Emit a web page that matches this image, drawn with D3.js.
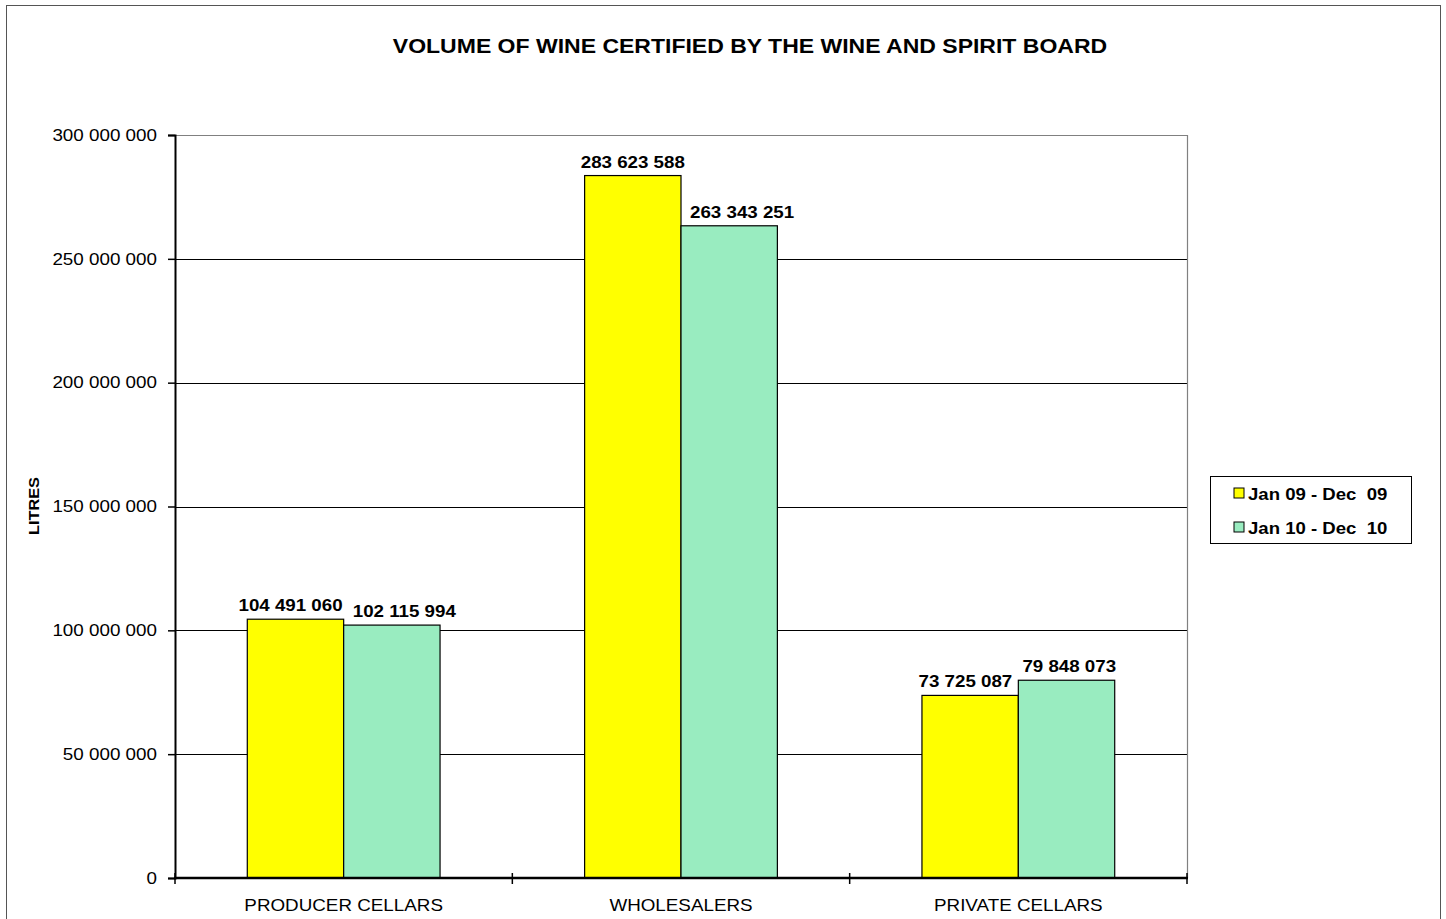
<!DOCTYPE html>
<html>
<head>
<meta charset="utf-8">
<script src="https://cdn.jsdelivr.net/npm/d3@7"></script>
<style>
  body { margin: 0; background: #fff; }
  text { font-family: "Liberation Sans", Arial, sans-serif; fill: #000; }
</style>
</head>
<body>
<div class="chart"></div>
<script>
const categories = ['PRODUCER CELLARS', 'WHOLESALERS', 'PRIVATE CELLARS'];
const seriesNames = ['Jan 09 - Dec  09', 'Jan 10 - Dec  10'];
const jan09 = [104491060, 283623588, 73725087];
const jan10 = [102115994, 263343251, 79848073];
const yTicks = [0, 50000000, 100000000, 150000000, 200000000, 250000000, 300000000];
const colors = ['#ffff00', '#99ecc0'];

const W = 1446, H = 919;
const plot = {left: 175, top: 135, right: 1187, bottom: 878};

const svg = d3.select('.chart').append('svg')
    .attr('width', W)
    .attr('height', H);

// the reference font renders wider than Liberation Sans, so stretch glyphs a bit
function stretch(sel, f) {
  sel.each(function() {
    const len = this.getComputedTextLength();
    d3.select(this)
      .attr('textLength', len * f)
      .attr('lengthAdjust', 'spacingAndGlyphs');
  });
}

// outer chart border
svg.append('rect')
    .attr('x', 6.5).attr('y', 5.5)
    .attr('width', 1434).attr('height', 930)
    .attr('fill', 'none')
    .attr('stroke', '#555')
    .attr('stroke-width', 1);

svg.append('text')
    .attr('x', 750).attr('y', 53)
    .attr('text-anchor', 'middle')
    .style('font-size', '20px')
    .style('font-weight', 'bold')
    .text('VOLUME OF WINE CERTIFIED BY THE WINE AND SPIRIT BOARD')
    .call(stretch, 1.15);

const fmt = v => d3.format(',')(v).replace(/,/g, ' ');

const xScale = d3.scaleBand()
    .domain(categories)
    .range([plot.left, plot.right])
    .padding(0);

const x1 = d3.scaleBand()
    .domain([0, 1])
    .range([0, xScale.bandwidth()])
    .paddingInner(0)
    .paddingOuter(0.75);

const yScale = d3.scaleLinear()
    .domain([0, 300000000])
    .range([plot.bottom, plot.top]);

// gridlines
svg.append('g')
    .selectAll('line')
    .data(yTicks.slice(1, -1))
    .enter()
    .append('line')
    .attr('x1', plot.left).attr('x2', plot.right)
    .attr('y1', d => Math.round(yScale(d)) + 0.5)
    .attr('y2', d => Math.round(yScale(d)) + 0.5)
    .attr('stroke', '#000')
    .attr('stroke-width', 1);

// plot border (top, right)
svg.append('path')
    .attr('d', `M${plot.left},${plot.top + 0.5}H${plot.right + 0.5}V${plot.bottom}`)
    .attr('fill', 'none')
    .attr('stroke', '#808080')
    .attr('stroke-width', 1.2);

// bars
const rows = categories.map((c, i) => ({cat: c, vals: [jan09[i], jan10[i]]}));

const groups = svg.selectAll('.group')
    .data(rows)
    .enter()
    .append('g')
    .attr('class', 'group')
    .attr('transform', d => `translate(${xScale(d.cat)},0)`);

groups.selectAll('rect')
    .data(d => d.vals.map((v, s) => ({v, s})))
    .enter()
    .append('rect')
    .attr('x', d => x1(d.s))
    .attr('y', d => yScale(d.v))
    .attr('width', x1.bandwidth())
    .attr('height', d => yScale(0) - yScale(d.v))
    .attr('fill', d => colors[d.s])
    .attr('stroke', '#000')
    .attr('stroke-width', 1.2);

groups.each(function(row) {
  const g = d3.select(this);
  const labels = g.selectAll('.lbl')
    .data(row.vals.map((v, s) => ({v, s})))
    .enter()
    .append('text')
    .attr('class', 'lbl')
    .attr('x', d => x1(d.s) + x1.bandwidth() / 2)
    .attr('y', d => yScale(d.v) - 8)
    .attr('text-anchor', 'middle')
    .style('font-size', '16px')
    .style('font-weight', 'bold')
    .text(d => fmt(d.v))
    .call(stretch, 1.17);

  // keep the shorter bar's label clear of the taller neighbour, like Excel does
  const nodes = labels.nodes();
  const cx = nodes.map(n => +d3.select(n).attr('x'));
  const w = nodes.map(n => n.getBBox().width);
  const tall = row.vals[0] >= row.vals[1] ? 0 : 1;
  const short = 1 - tall;
  const edge = x1(1); // shared edge between the two bars
  if (short === 1) {
    const minLeft = edge + 9;
    if (cx[1] - w[1] / 2 < minLeft) cx[1] = minLeft + w[1] / 2;
  } else {
    const maxRight = edge - 6;
    if (cx[0] + w[0] / 2 > maxRight) cx[0] = maxRight - w[0] / 2;
  }
  // then keep a gap between the two labels when they sit at a similar height
  const dy = Math.abs(yScale(row.vals[0]) - yScale(row.vals[1]));
  const gap = (cx[1] - w[1] / 2) - (cx[0] + w[0] / 2);
  if (dy < 16 && gap < 10) {
    if (tall === 0) cx[0] -= 10 - gap;
    else cx[1] += 10 - gap;
  }
  nodes.forEach((n, i) => d3.select(n).attr('x', cx[i]));
});

// y axis
const yAxis = d3.axisLeft(yScale)
    .tickValues(yTicks)
    .tickSize(7)
    .tickPadding(11)
    .tickFormat(fmt);

const gy = svg.append('g')
    .attr('transform', `translate(${plot.left},0)`)
    .call(yAxis);
gy.select('.domain').attr('stroke-width', 2);
gy.selectAll('.tick line').attr('stroke-width', 1.5);
gy.selectAll('.tick text')
    .style('font-size', '16.5px')
    .style('font-family', '"Liberation Sans", Arial, sans-serif')
    .call(stretch, 1.14);

// x axis (ticks at category boundaries)
const xLine = svg.append('g');
xLine.append('line')
    .attr('x1', plot.left - 1).attr('x2', plot.right + 1)
    .attr('y1', plot.bottom).attr('y2', plot.bottom)
    .attr('stroke', '#000').attr('stroke-width', 2.5);
xLine.selectAll('.xt')
    .data(categories.map(c => xScale(c)).concat([plot.right]))
    .enter()
    .append('line')
    .attr('class', 'xt')
    .attr('x1', d => d).attr('x2', d => d)
    .attr('y1', plot.bottom - 5).attr('y2', plot.bottom + 6)
    .attr('stroke', '#000').attr('stroke-width', 1.5);
xLine.selectAll('.xl')
    .data(categories)
    .enter()
    .append('text')
    .attr('class', 'xl')
    .attr('x', d => xScale(d) + xScale.bandwidth() / 2)
    .attr('y', 911)
    .attr('text-anchor', 'middle')
    .style('font-size', '16.5px')
    .text(d => d)
    .call(stretch, 1.14);

// y title
svg.append('text')
    .attr('transform', 'translate(39,506) rotate(-90)')
    .attr('text-anchor', 'middle')
    .style('font-size', '15.5px')
    .style('font-weight', 'bold')
    .text('LITRES')
    .call(stretch, 1.05);

// legend
const legend = svg.append('g').attr('transform', 'translate(1210,476)');
legend.append('rect')
    .attr('x', 0.5).attr('y', 0.5)
    .attr('width', 201).attr('height', 67)
    .attr('fill', '#fff')
    .attr('stroke', '#000')
    .attr('stroke-width', 1);
const items = legend.selectAll('.item')
    .data(seriesNames)
    .enter()
    .append('g')
    .attr('class', 'item')
    .attr('transform', (d, i) => `translate(24,${18 + i * 34})`);
items.append('rect')
    .attr('x', 0).attr('y', -6)
    .attr('width', 10).attr('height', 10)
    .attr('fill', (d, i) => colors[i])
    .attr('stroke', '#000')
    .attr('stroke-width', 1);
items.append('text')
    .attr('x', 14).attr('y', 6)
    .style('font-size', '16px')
    .style('font-weight', 'bold')
    .style('white-space', 'pre')
    .text(d => d)
    .call(stretch, 1.16);
</script>
</body>
</html>
